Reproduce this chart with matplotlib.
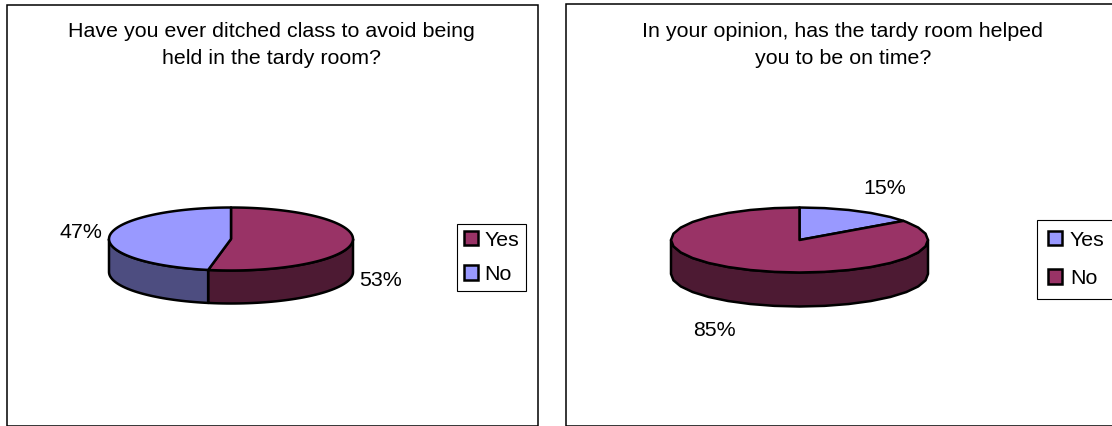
import matplotlib
matplotlib.use("Agg")
import matplotlib.pyplot as plt
import numpy as np
from matplotlib.patches import Patch, Rectangle

plt.rcParams['font.family'] = ['Liberation Sans', 'DejaVu Sans']

W, H = 1112, 426
FS = 15.4
PURPLE = "#993366"
PERIWINKLE = "#9999ff"

left_labels = ["Yes", "No"]
left_values = [53, 47]
left_colors = [PURPLE, PERIWINKLE]
left_dark = ["#4d1a33", "#4d4d80"]
left_title = "Have you ever ditched class to avoid being\nheld in the tardy room?"

right_labels = ["Yes", "No"]
right_values = [15, 85]
right_colors = [PERIWINKLE, PURPLE]
right_dark = ["#4d4d80", "#4d1a33"]
right_title = "In your opinion, has the tardy room helped\nyou to be on time?"


def pie3d(ax, values, colors, darks, cx, cy, a, b, depth, nseg):
    """flat pie plus its side wall, angles run clockwise from 12 o'clock"""
    edges = np.concatenate([[0], np.cumsum(values)]) / np.sum(values) * 2 * np.pi

    def arc(t0, t1):
        # snap to a coarse grid so low nseg gives the jagged look of the original
        grid = np.linspace(0, 2 * np.pi, nseg + 1)
        t = np.concatenate([[t0], grid[(grid > t0) & (grid < t1)], [t1]])
        return cx + a * np.sin(t), cy - b * np.cos(t)

    # side wall, only the front half (pi/2 to 3pi/2) is visible
    for i in range(len(values)):
        t0 = max(edges[i], np.pi / 2)
        t1 = min(edges[i + 1], 3 * np.pi / 2)
        if t1 <= t0:
            continue
        x, y = arc(t0, t1)
        ax.fill(np.r_[x, x[::-1]], np.r_[y, y[::-1] + depth], facecolor=darks[i],
                edgecolor="black", linewidth=1.8, joinstyle="round", clip_on=False)

    for i in range(len(values)):
        x, y = arc(edges[i], edges[i + 1])
        ax.fill(np.r_[cx, x], np.r_[cy, y], facecolor=colors[i],
                edgecolor="black", linewidth=1.8, joinstyle="round", clip_on=False)


def chart(frame, title, title_x, title_y, labels, values, colors, darks, geom, nseg,
          pct_pos, legend_xy, legend_pad, legend_space, text_pad):
    ax = fig.add_axes([0, 0, 1, 1], facecolor="none")
    ax.set_xlim(0, W)
    ax.set_ylim(H, 0)
    ax.axis("off")
    ax.add_patch(Rectangle(frame[:2], frame[2], frame[3], facecolor="white",
                           edgecolor="black", linewidth=1.1))
    ax.text(title_x, title_y, title, ha="center", va="top", fontsize=FS,
            linespacing=1.56, color="black")
    pie3d(ax, values, colors, darks, *geom, nseg)
    for v, (px, py) in zip(values, pct_pos):
        ax.text(px, py, f"{v}%", ha="center", va="center", fontsize=FS)
    handles = [Patch(facecolor=c, edgecolor="black", linewidth=1.8) for c in colors]
    leg = ax.legend(handles, labels, loc="upper left", bbox_to_anchor=legend_xy,
                    bbox_transform=ax.transData, fontsize=FS, fancybox=False,
                    edgecolor="black", framealpha=1, borderaxespad=0,
                    handlelength=0.66, handleheight=0.66, handletextpad=text_pad,
                    labelspacing=legend_space, borderpad=legend_pad)
    leg.get_frame().set_linewidth(0.8)
    return ax


fig = plt.figure(figsize=(W / 100, H / 100), dpi=100)

chart((6.5, 4.5, 531, 421), left_title, 271, 22, left_labels, left_values, left_colors, left_dark,
      (231, 239, 122, 31.5, 33), 180, [(381, 281), (81, 233)], (457, 223.5), 0.34, 0.72, 0.27)
chart((565.5, 3.5, 560, 422), right_title, 843, 22, right_labels, right_values, right_colors, right_dark,
      (799.5, 240, 128.5, 32.5, 34), 32, [(885, 188), (714, 330)], (1037, 220), 0.5, 0.9, 0.38)

fig.savefig("out.png", dpi=100)
